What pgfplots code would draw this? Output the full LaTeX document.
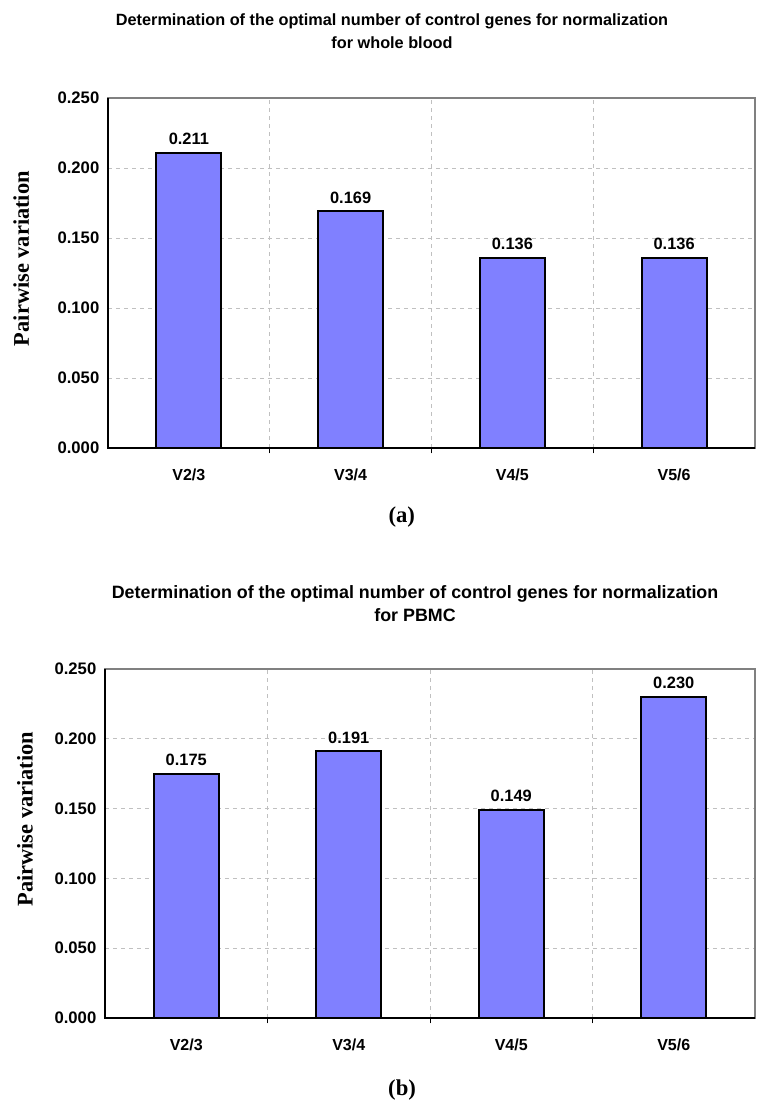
\documentclass[border=0pt]{standalone}
\usepackage{pgfplots}
\pgfplotsset{compat=1.18}
\usepackage{fontspec}
\setmainfont{Liberation Sans}
\newfontfamily\serif{Liberation Serif}
\definecolor{barblue}{HTML}{8080FF}
\definecolor{gridgray}{HTML}{C0C0C0}
\pgfplotsset{
  mystyle/.style={
    scale only axis,
    anchor=south west,
    clip=false,
    ybar,
    bar width=48.75pt,
    xmin=-0.5, xmax=3.5,
    ymin=0, ymax=0.25,
    ytick={0,0.05,0.1,0.15,0.2,0.25},
    xtick={0,1,2,3},
    xticklabels={V2/3,V3/4,V4/5,V5/6},
    minor xtick={0.5,1.5,2.5},
    tick pos=left,
    xminorgrids=true, ymajorgrids=true,
    grid style={gridgray, dashed, line width=0.6pt},
    minor grid style={gridgray, dashed, line width=0.6pt},
    major x tick style={draw=none},
    minor x tick style={black, line width=0.6pt},
    minor tick length=4pt,
    major y tick style={draw=none},
    axis line style={gray, line width=0.8pt},
    /pgf/number format/assume math mode=true,
    yticklabel style={font=\fontsize{12.5}{14}\selectfont\bfseries, /pgf/number format/fixed, /pgf/number format/fixed zerofill, /pgf/number format/precision=3, xshift=-3pt},
    xticklabel style={font=\fontsize{12}{14}\selectfont\bfseries, yshift=-8pt},
    scaled y ticks=false,
    nodes near coords,
    nodes near coords style={font=\fontsize{12.3}{14}\selectfont\bfseries, /pgf/number format/fixed, /pgf/number format/fixed zerofill, /pgf/number format/precision=3, /pgf/number format/assume math mode=true, yshift=2pt},
    title style={font=\fontsize{12.2}{17}\selectfont\bfseries, align=center, anchor=center},
    ylabel style={font=\serif\fontsize{16.8}{18}\selectfont\bfseries, rotate=0, anchor=center},
  }
}
\begin{document}
\begin{tikzpicture}
\path[use as bounding box] (0,0) rectangle (567.75pt,826.5pt);
\begin{axis}[mystyle,
  at={(81pt,490.5pt)}, width=485.25pt, height=262.5pt,
  title={Determination of the optimal number of control genes for normalization\\for whole blood},
  title style={at={(axis description cs:0.439,1.168)}},
  ylabel={Pairwise variation},
  ylabel style={at={(axis description cs:-0.134,0.541)}},
]
\addplot[fill=barblue, draw=black, line width=1.5pt] coordinates {(0,0.211) (1,0.169) (2,0.136) (3,0.136)};
\draw[black, line width=0.8pt] (rel axis cs:0,1) -- (rel axis cs:0,0) -- (rel axis cs:1,0);
\node[font=\serif\fontsize{17}{18}\selectfont\bfseries] at (rel axis cs:0.454,-0.197) {(a)};
\end{axis}
\begin{axis}[mystyle,
  at={(78.75pt,63pt)}, width=487.5pt, height=261.75pt,
  title={Determination of the optimal number of control genes for normalization\\for PBMC},
  title style={at={(axis description cs:0.477,1.165)}, font=\fontsize{13.4}{17}\selectfont\bfseries},
  ylabel={Pairwise variation},
  ylabel style={at={(axis description cs:-0.123,0.570)}},
]
\addplot[fill=barblue, draw=black, line width=1.5pt] coordinates {(0,0.175) (1,0.191) (2,0.149) (3,0.230)};
\draw[black, line width=0.8pt] (rel axis cs:0,1) -- (rel axis cs:0,0) -- (rel axis cs:1,0);
\node[font=\serif\fontsize{17}{18}\selectfont\bfseries] at (rel axis cs:0.457,-0.206) {(b)};
\end{axis}
\end{tikzpicture}
\end{document}
